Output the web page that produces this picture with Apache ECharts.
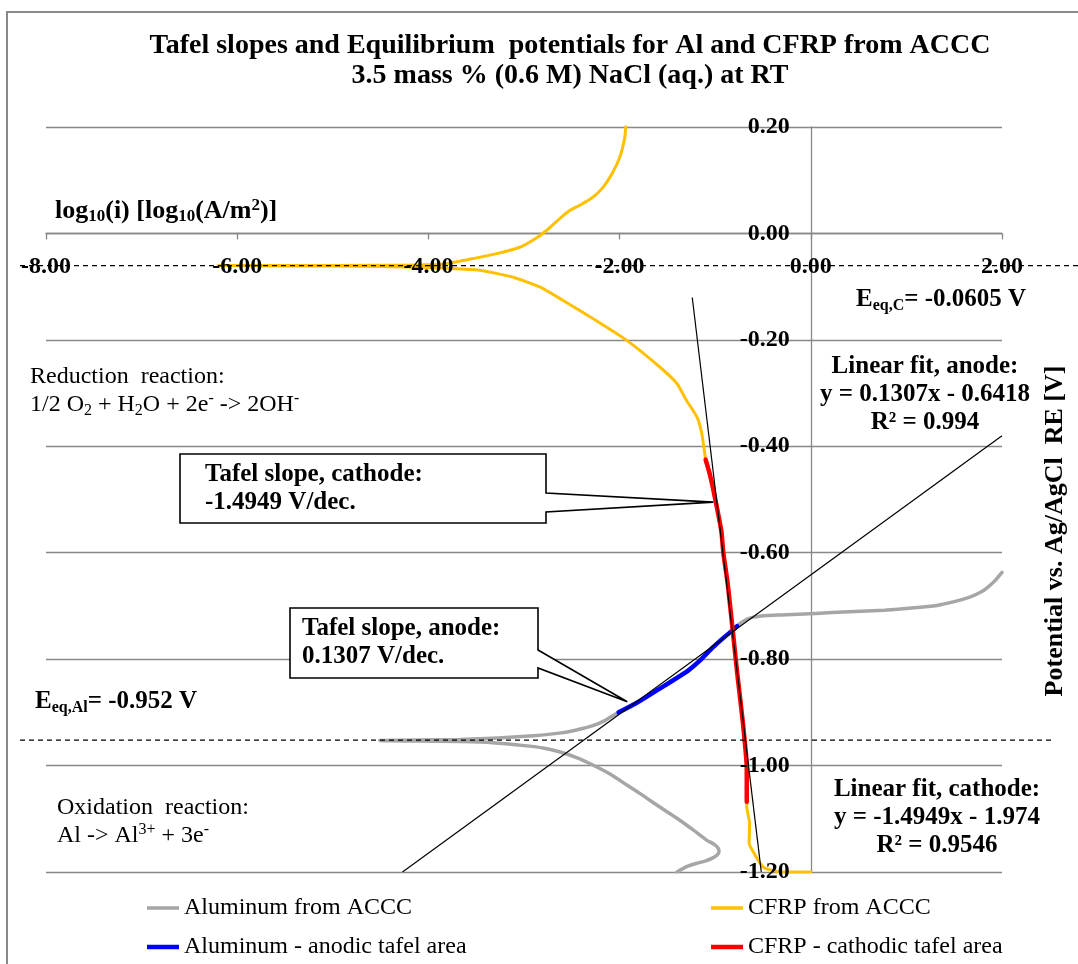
<!DOCTYPE html>
<html>
<head>
<meta charset="utf-8">
<script src="https://cdn.jsdelivr.net/npm/echarts@6/dist/echarts.min.js"></script>
<style>
  html, body { margin: 0; padding: 0; background: #fff; }
  #chart { width: 1078px; height: 964px; }
</style>
</head>
<body>
<div id="chart"></div>
<script>
// Polarisation (Tafel) curves of the Al and CFRP parts of an ACCC conductor
// in 3.5 mass % NaCl, with linear Tafel fits and equilibrium potentials.

const FONT = '"Liberation Serif", "Times New Roman", serif';

// Axis scales: log10 current density [log10(A/m2)] and potential [V]
const xAxisRange = [-8, 2];
const xAxisStep = 2;
const yAxisRange = [-1.2, 0.2];
const yAxisStep = 0.2;
const xTickValues = [-8, -6, -4, -2, 0, 2];
const yTickValues = [0.2, 0, -0.2, -0.4, -0.6, -0.8, -1.0, -1.2];

// Equilibrium potentials [V]
const eqPotentialCFRP = -0.0605;
const eqPotentialAl = -0.952;

// Linear Tafel fits (y = slope * x + intercept) and the x-span each is drawn over
const anodeFit = { slope: 0.1307, intercept: -0.6418, r2: 0.994 };
const anodeFitSpan = [-4.271, 2.0];
const cathodeFit = { slope: -1.4949, intercept: -1.974, r2: 0.9546 };
const cathodeFitSpan = [-1.24, -0.518];

// Aluminum from ACCC: [log10(i), E]
const aluminumCurve = [
  [-1.40, -1.200], [-1.30, -1.190], [-1.20, -1.184], [-1.10, -1.179], [-1.03, -1.174],
  [-0.98, -1.168], [-0.96, -1.162], [-0.97, -1.155], [-1.01, -1.148], [-1.09, -1.140],
  [-1.23, -1.121], [-1.40, -1.099], [-1.58, -1.078], [-1.75, -1.057], [-1.92, -1.037],
  [-2.10, -1.016], [-2.28, -0.999], [-2.45, -0.985], [-2.63, -0.974], [-2.80, -0.967],
  [-2.97, -0.963], [-3.33, -0.957], [-3.67, -0.955], [-4.10, -0.954], [-4.51, -0.953],
  [-4.10, -0.952], [-3.67, -0.951], [-3.40, -0.949], [-3.15, -0.947], [-2.90, -0.944],
  [-2.63, -0.939], [-2.45, -0.933], [-2.28, -0.925], [-2.15, -0.915], [-2.01, -0.900],
  [-1.82, -0.882], [-1.64, -0.862], [-1.46, -0.842], [-1.28, -0.821], [-1.15, -0.801],
  [-1.03, -0.779], [-0.92, -0.761], [-0.82, -0.746], [-0.74, -0.733], [-0.67, -0.725],
  [-0.60, -0.721], [-0.45, -0.718], [-0.31, -0.717], [0.05, -0.714], [0.40, -0.711],
  [0.77, -0.708], [1.05, -0.704], [1.32, -0.699], [1.50, -0.692], [1.67, -0.683],
  [1.78, -0.674], [1.85, -0.665], [1.93, -0.652], [2.00, -0.637]
];

// CFRP from ACCC: [log10(i), E]
const cfrpCurve = [
  [-1.935, 0.201], [-1.946, 0.180], [-1.998, 0.143], [-2.071, 0.115], [-2.176, 0.086],
  [-2.280, 0.068], [-2.416, 0.053], [-2.521, 0.043], [-2.626, 0.028], [-2.762, 0.006],
  [-2.866, -0.008], [-3.044, -0.026], [-3.285, -0.038], [-3.640, -0.051], [-3.808, -0.057],
  [-4.00, -0.059], [-4.50, -0.060], [-5.50, -0.0605], [-6.20, -0.0605],
  [-5.50, -0.061], [-4.50, -0.062], [-4.00, -0.064], [-3.745, -0.066], [-3.46, -0.069],
  [-3.12, -0.082], [-2.83, -0.101], [-2.59, -0.126], [-2.28, -0.160], [-1.925, -0.201],
  [-1.58, -0.251], [-1.40, -0.282], [-1.30, -0.314], [-1.19, -0.345], [-1.14, -0.376],
  [-1.11, -0.413], [-1.10, -0.425], [-1.06, -0.450], [-1.025, -0.477], [-0.97, -0.526],
  [-0.935, -0.560], [-0.915, -0.600], [-0.87, -0.657], [-0.82, -0.740], [-0.77, -0.826],
  [-0.71, -0.920], [-0.67, -1.003], [-0.67, -1.068], [-0.67, -1.078], [-0.64, -1.108],
  [-0.645, -1.146], [-0.57, -1.172], [-0.49, -1.192], [-0.31, -1.200], [0.00, -1.200]
];

// Anodic Tafel region of the aluminum curve
const aluminumAnodic = [
  [-2.01, -0.900], [-1.82, -0.882], [-1.64, -0.862], [-1.46, -0.842], [-1.28, -0.821],
  [-1.15, -0.801], [-1.03, -0.779], [-0.92, -0.761], [-0.82, -0.746], [-0.77, -0.738]
];

// Cathodic Tafel region of the CFRP curve
const cfrpCathodic = [
  [-1.10, -0.425], [-1.06, -0.450], [-1.025, -0.477], [-0.97, -0.526], [-0.935, -0.560],
  [-0.915, -0.600], [-0.87, -0.657], [-0.82, -0.740], [-0.77, -0.826], [-0.71, -0.920],
  [-0.67, -1.003], [-0.67, -1.068]
];

// Points the two callouts point at
const cathodeCalloutPoint = [-1.02, -0.505];
const anodeCalloutPoint = [-1.92, -0.88];

const seriesNames = [
  'Aluminum from ACCC', 'CFRP from ACCC',
  'Aluminum - anodic tafel area', 'CFRP - cathodic tafel area'
];
const seriesColors = ['#A6A6A6', '#FFC000', '#0000FF', '#FF0000'];

function fitLine(fit, span) {
  return span.map(x => [x, fit.slope * x + fit.intercept]);
}
function fmtNum(v, d) { return (Math.abs(v) < 1e-9 ? 0 : v).toFixed(d); }
function signed(v) { return v < 0 ? '- ' + Math.abs(v) : '+ ' + v; }

const chart = echarts.init(document.getElementById('chart'), null, { renderer: 'canvas' });

const legendText = { color: '#000', fontFamily: FONT, fontSize: 24 };

function legendAt(name, left, top, thick) {
  return {
    data: [name], left: left, top: top, orient: 'horizontal', icon: 'rect',
    itemWidth: 32, itemHeight: thick, padding: 0, selectedMode: false,
    textStyle: legendText
  };
}

function lineSeries(i, data, width, z) {
  return {
    name: seriesNames[i], type: 'line', data: data, symbol: 'none', smooth: 0.15,
    lineStyle: { color: seriesColors[i], width: width, cap: 'round', join: 'round' },
    itemStyle: { color: seriesColors[i] }, z: z
  };
}

chart.setOption({
  animation: false,
  backgroundColor: '#fff',
  title: {
    text: 'Tafel slopes and Equilibrium  potentials for Al and CFRP from ACCC\n3.5 mass % (0.6 M) NaCl (aq.) at RT',
    left: 565, top: 26, textAlign: 'center',
    textStyle: { fontFamily: FONT, fontWeight: 'bold', fontSize: 28, lineHeight: 30, color: '#000' }
  },
  grid: { left: 46, right: 76, top: 127, bottom: 92, containLabel: false, outerBoundsMode: 'none' },
  xAxis: {
    type: 'value', min: xAxisRange[0], max: xAxisRange[1], interval: xAxisStep,
    axisLine: { onZero: true, lineStyle: { color: '#888', width: 1.3 } },
    axisTick: { show: true, inside: false, length: 6, lineStyle: { color: '#888', width: 1.3 } },
    axisLabel: { show: false },
    splitLine: { show: false }
  },
  yAxis: {
    type: 'value', min: yAxisRange[0], max: yAxisRange[1], interval: yAxisStep,
    axisLine: { onZero: true, lineStyle: { color: '#888', width: 1.3 } },
    axisTick: { show: false },
    axisLabel: { show: false },
    splitLine: { show: true, lineStyle: { color: '#888', width: 1.3 } }
  },
  legend: [
    legendAt(seriesNames[0], 147, 896, 3.5),
    legendAt(seriesNames[1], 711, 896, 3.5),
    legendAt(seriesNames[2], 147, 935, 4.5),
    legendAt(seriesNames[3], 711, 935, 4.5)
  ],
  series: [
    lineSeries(0, aluminumCurve, 3.5, 2),
    lineSeries(1, cfrpCurve, 3, 3),
    lineSeries(2, aluminumAnodic, 4.5, 4),
    lineSeries(3, cfrpCathodic, 4.5, 5),
    { name: 'anode fit', type: 'line', data: fitLine(anodeFit, anodeFitSpan), symbol: 'none',
      lineStyle: { color: '#000', width: 1.2 }, z: 6, silent: true },
    { name: 'cathode fit', type: 'line', data: fitLine(cathodeFit, cathodeFitSpan), symbol: 'none',
      lineStyle: { color: '#000', width: 1.2 }, z: 6, silent: true }
  ]
});

// Overlay: tick labels, equilibrium lines, annotations and callouts, placed through the axis scales
const toPx = p => chart.convertToPixel({ gridIndex: 0 }, p);
const origin = toPx([0, 0]);
const yEqC = toPx([0, eqPotentialCFRP])[1];
const yEqAl = toPx([0, eqPotentialAl])[1];
const tipC = toPx(cathodeCalloutPoint);
const tipA = toPx(anodeCalloutPoint);

const richBold = {
  n: { fontFamily: FONT, fontWeight: 'bold', fontSize: 25, lineHeight: 28, color: '#000' },
  sub: { fontFamily: FONT, fontWeight: 'bold', fontSize: 16, lineHeight: 12, verticalAlign: 'bottom', color: '#000' },
  sup: { fontFamily: FONT, fontWeight: 'bold', fontSize: 16, lineHeight: 14, verticalAlign: 'top', color: '#000' }
};
const richAxisName = {
  n: { fontFamily: FONT, fontWeight: 'bold', fontSize: 26, lineHeight: 28, color: '#000' },
  sub: { fontFamily: FONT, fontWeight: 'bold', fontSize: 17, lineHeight: 12, verticalAlign: 'bottom', color: '#000' },
  sup: { fontFamily: FONT, fontWeight: 'bold', fontSize: 17, lineHeight: 14, verticalAlign: 'top', color: '#000' }
};
const richReg = {
  n: { fontFamily: FONT, fontSize: 24, lineHeight: 28, color: '#000' },
  sub: { fontFamily: FONT, fontSize: 16, lineHeight: 12, verticalAlign: 'bottom', color: '#000' },
  sup: { fontFamily: FONT, fontSize: 16, lineHeight: 14, verticalAlign: 'top', color: '#000' }
};

function text(x, y, str, opts) {
  return {
    type: 'text', z: 100, silent: true,
    style: Object.assign({
      text: str, x: x, y: y, fill: '#000', fontFamily: FONT, fontSize: 25,
      align: 'left', verticalAlign: 'middle'
    }, opts || {})
  };
}

function callout(box, baseY, tip, textInset, lines) {
  const [x0, y0, x1, y1] = box;
  return [
    {
      type: 'polygon', z: 90, silent: true,
      shape: { points: [[x0, y0], [x1, y0], [x1, baseY[0]], tip, [x1, baseY[1]], [x1, y1], [x0, y1]] },
      style: { fill: '#fff', stroke: '#000', lineWidth: 1.6 }
    },
    text(x0 + textInset, (y0 + y1) / 2, lines.join('\n'),
      { fontWeight: 'bold', lineHeight: 28, fontSize: 25 })
  ];
}

const tickLabelStyle = { fontWeight: 'bold', fontSize: 24 };
const xTickLabels = xTickValues.map(v => {
  const p = toPx([v, 0]);
  return text(p[0], origin[1] + 33, fmtNum(v, 2), Object.assign({ align: 'center' }, tickLabelStyle));
});
const yTickLabels = yTickValues.map(v => {
  const p = toPx([0, v]);
  return text(origin[0] - 21, p[1], fmtNum(v, 2), Object.assign({ align: 'right' }, tickLabelStyle));
});

const graphics = [
  // outer frame
  { type: 'rect', z: 0, silent: true, shape: { x: 7, y: 12, width: 1090, height: 980 },
    style: { fill: 'none', stroke: '#8a8a8a', lineWidth: 2 } },
  // equilibrium potentials
  { type: 'line', z: 50, silent: true, shape: { x1: 20, y1: yEqC, x2: 1078, y2: yEqC },
    style: { stroke: '#000', lineWidth: 1.3, lineDash: [5, 4] } },
  { type: 'line', z: 50, silent: true, shape: { x1: 20, y1: yEqAl, x2: 1052, y2: yEqAl },
    style: { stroke: '#000', lineWidth: 1.3, lineDash: [5, 4] } },
  // axis names
  text(55, 211, '{n|log}{sub|10}{n|(i) [log}{sub|10}{n|(A/m}{sup|2}{n|)]}', { rich: richAxisName }),
  {
    type: 'text', z: 100, silent: true, x: 1055, y: 531, rotation: Math.PI / 2,
    style: { text: 'Potential vs. Ag/AgCl  RE [V]', x: 0, y: 0, fill: '#000', fontFamily: FONT,
      fontWeight: 'bold', fontSize: 26, align: 'center', verticalAlign: 'middle' }
  },
  // equilibrium labels
  text(856, yEqC + 34, '{n|E}{sub|eq,C}{n|= ' + eqPotentialCFRP.toFixed(4) + ' V}', { rich: richBold }),
  text(35, yEqAl - 38, '{n|E}{sub|eq,Al}{n|= ' + eqPotentialAl.toFixed(3) + ' V}', { rich: richBold }),
  // fit results
  text(925, 395, 'Linear fit, anode:\ny = ' + anodeFit.slope + 'x ' + signed(anodeFit.intercept) +
    '\nR² = ' + anodeFit.r2, { fontWeight: 'bold', align: 'center', lineHeight: 28 }),
  text(937, 818, 'Linear fit, cathode:\ny = ' + cathodeFit.slope + 'x ' + signed(cathodeFit.intercept) +
    '\nR² = ' + cathodeFit.r2, { fontWeight: 'bold', align: 'center', lineHeight: 28 }),
  // half-reactions
  text(30, 391, '{n|Reduction  reaction:}\n{n|1/2 O}{sub|2}{n| + H}{sub|2}{n|O + 2e}{sup|-}{n| -> 2OH}{sup|-}', { rich: richReg }),
  text(57, 822, '{n|Oxidation  reaction:}\n{n|Al -> Al}{sup|3+}{n| + 3e}{sup|-}', { rich: richReg })
]
  .concat(xTickLabels, yTickLabels)
  .concat(callout([180, 454, 546, 523], [493, 512], tipC, 25,
    ['Tafel slope, cathode:', cathodeFit.slope + ' V/dec.']))
  .concat(callout([290, 608, 538, 678], [650, 668], tipA, 12,
    ['Tafel slope, anode:', anodeFit.slope + ' V/dec.']));

chart.setOption({ graphic: graphics });
</script>
</body>
</html>
